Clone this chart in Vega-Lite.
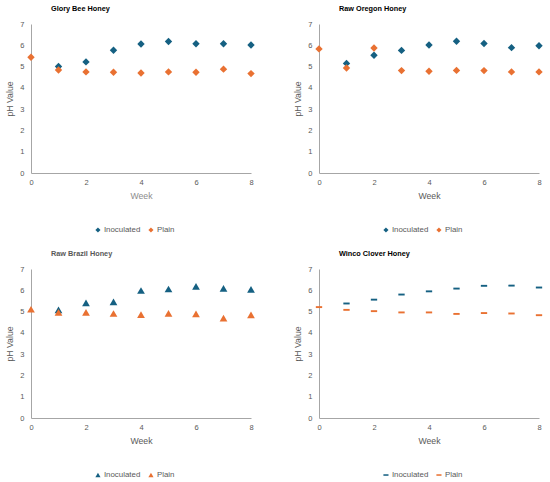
{
  "$schema": "https://vega.github.io/schema/vega-lite/v6.json",
  "padding": {"left": 5, "top": 4, "right": 5, "bottom": 5},
  "background": "white",
  "config": {
    "font": "Liberation Sans",
    "view": {"stroke": null},
    "axis": {
      "grid": false,
      "ticks": false,
      "domainColor": "#A6A6A6",
      "domainWidth": 1,
      "labelColor": "#595959",
      "labelFontSize": 7.5,
      "labelFlush": false,
      "titleColor": "#595959",
      "titleFontSize": 8.7,
      "titleFontWeight": "normal"
    },
    "axisX": {"labelPadding": 5, "titlePadding": 6},
    "axisY": {"labelPadding": 7, "titlePadding": 5},
    "legend": {
      "orient": "none",
      "direction": "horizontal",
      "legendX": 63,
      "legendY": 202,
      "labelFontSize": 7.9,
      "labelColor": "#595959",
      "symbolSize": 26,
      "labelOffset": 2,
      "columnPadding": 6,
      "symbolStrokeWidth": 0
    },
    "title": {
      "anchor": "start",
      "frame": "group",
      "dx": 20,
      "fontSize": 7.3,
      "fontWeight": "bold",
      "color": "#000000",
      "offset": 8
    }
  },
  "data": {
    "values": [
      {"honey": "Glory Bee Honey", "treatment": "Inoculated", "week": 1, "ph": 5.0},
      {"honey": "Glory Bee Honey", "treatment": "Inoculated", "week": 2, "ph": 5.22},
      {"honey": "Glory Bee Honey", "treatment": "Inoculated", "week": 3, "ph": 5.77},
      {"honey": "Glory Bee Honey", "treatment": "Inoculated", "week": 4, "ph": 6.06},
      {"honey": "Glory Bee Honey", "treatment": "Inoculated", "week": 5, "ph": 6.18},
      {"honey": "Glory Bee Honey", "treatment": "Inoculated", "week": 6, "ph": 6.07},
      {"honey": "Glory Bee Honey", "treatment": "Inoculated", "week": 7, "ph": 6.07},
      {"honey": "Glory Bee Honey", "treatment": "Inoculated", "week": 8, "ph": 6.01},
      {"honey": "Glory Bee Honey", "treatment": "Plain", "week": 0, "ph": 5.44},
      {"honey": "Glory Bee Honey", "treatment": "Plain", "week": 1, "ph": 4.84},
      {"honey": "Glory Bee Honey", "treatment": "Plain", "week": 2, "ph": 4.75},
      {"honey": "Glory Bee Honey", "treatment": "Plain", "week": 3, "ph": 4.73},
      {"honey": "Glory Bee Honey", "treatment": "Plain", "week": 4, "ph": 4.7},
      {"honey": "Glory Bee Honey", "treatment": "Plain", "week": 5, "ph": 4.75},
      {"honey": "Glory Bee Honey", "treatment": "Plain", "week": 6, "ph": 4.73},
      {"honey": "Glory Bee Honey", "treatment": "Plain", "week": 7, "ph": 4.88},
      {"honey": "Glory Bee Honey", "treatment": "Plain", "week": 8, "ph": 4.67},
      {"honey": "Raw Oregon Honey", "treatment": "Inoculated", "week": 1, "ph": 5.15},
      {"honey": "Raw Oregon Honey", "treatment": "Inoculated", "week": 2, "ph": 5.53},
      {"honey": "Raw Oregon Honey", "treatment": "Inoculated", "week": 3, "ph": 5.76},
      {"honey": "Raw Oregon Honey", "treatment": "Inoculated", "week": 4, "ph": 6.01},
      {"honey": "Raw Oregon Honey", "treatment": "Inoculated", "week": 5, "ph": 6.19},
      {"honey": "Raw Oregon Honey", "treatment": "Inoculated", "week": 6, "ph": 6.08},
      {"honey": "Raw Oregon Honey", "treatment": "Inoculated", "week": 7, "ph": 5.89},
      {"honey": "Raw Oregon Honey", "treatment": "Inoculated", "week": 8, "ph": 5.98},
      {"honey": "Raw Oregon Honey", "treatment": "Plain", "week": 0, "ph": 5.83},
      {"honey": "Raw Oregon Honey", "treatment": "Plain", "week": 1, "ph": 4.93},
      {"honey": "Raw Oregon Honey", "treatment": "Plain", "week": 2, "ph": 5.87},
      {"honey": "Raw Oregon Honey", "treatment": "Plain", "week": 3, "ph": 4.81},
      {"honey": "Raw Oregon Honey", "treatment": "Plain", "week": 4, "ph": 4.78},
      {"honey": "Raw Oregon Honey", "treatment": "Plain", "week": 5, "ph": 4.82},
      {"honey": "Raw Oregon Honey", "treatment": "Plain", "week": 6, "ph": 4.81},
      {"honey": "Raw Oregon Honey", "treatment": "Plain", "week": 7, "ph": 4.75},
      {"honey": "Raw Oregon Honey", "treatment": "Plain", "week": 8, "ph": 4.75},
      {"honey": "Raw Brazil Honey", "treatment": "Inoculated", "week": 1, "ph": 5.08},
      {"honey": "Raw Brazil Honey", "treatment": "Inoculated", "week": 2, "ph": 5.41},
      {"honey": "Raw Brazil Honey", "treatment": "Inoculated", "week": 3, "ph": 5.46},
      {"honey": "Raw Brazil Honey", "treatment": "Inoculated", "week": 4, "ph": 5.99},
      {"honey": "Raw Brazil Honey", "treatment": "Inoculated", "week": 5, "ph": 6.06},
      {"honey": "Raw Brazil Honey", "treatment": "Inoculated", "week": 6, "ph": 6.18},
      {"honey": "Raw Brazil Honey", "treatment": "Inoculated", "week": 7, "ph": 6.09},
      {"honey": "Raw Brazil Honey", "treatment": "Inoculated", "week": 8, "ph": 6.04},
      {"honey": "Raw Brazil Honey", "treatment": "Plain", "week": 0, "ph": 5.11},
      {"honey": "Raw Brazil Honey", "treatment": "Plain", "week": 1, "ph": 4.96},
      {"honey": "Raw Brazil Honey", "treatment": "Plain", "week": 2, "ph": 4.96},
      {"honey": "Raw Brazil Honey", "treatment": "Plain", "week": 3, "ph": 4.91},
      {"honey": "Raw Brazil Honey", "treatment": "Plain", "week": 4, "ph": 4.86},
      {"honey": "Raw Brazil Honey", "treatment": "Plain", "week": 5, "ph": 4.92},
      {"honey": "Raw Brazil Honey", "treatment": "Plain", "week": 6, "ph": 4.89},
      {"honey": "Raw Brazil Honey", "treatment": "Plain", "week": 7, "ph": 4.69},
      {"honey": "Raw Brazil Honey", "treatment": "Plain", "week": 8, "ph": 4.84},
      {"honey": "Winco Clover Honey", "treatment": "Inoculated", "week": 1, "ph": 5.38},
      {"honey": "Winco Clover Honey", "treatment": "Inoculated", "week": 2, "ph": 5.56},
      {"honey": "Winco Clover Honey", "treatment": "Inoculated", "week": 3, "ph": 5.8},
      {"honey": "Winco Clover Honey", "treatment": "Inoculated", "week": 4, "ph": 5.95},
      {"honey": "Winco Clover Honey", "treatment": "Inoculated", "week": 5, "ph": 6.08},
      {"honey": "Winco Clover Honey", "treatment": "Inoculated", "week": 6, "ph": 6.21},
      {"honey": "Winco Clover Honey", "treatment": "Inoculated", "week": 7, "ph": 6.22},
      {"honey": "Winco Clover Honey", "treatment": "Inoculated", "week": 8, "ph": 6.13},
      {"honey": "Winco Clover Honey", "treatment": "Plain", "week": 0, "ph": 5.21},
      {"honey": "Winco Clover Honey", "treatment": "Plain", "week": 1, "ph": 5.08},
      {"honey": "Winco Clover Honey", "treatment": "Plain", "week": 2, "ph": 5.02},
      {"honey": "Winco Clover Honey", "treatment": "Plain", "week": 3, "ph": 4.96},
      {"honey": "Winco Clover Honey", "treatment": "Plain", "week": 4, "ph": 4.96},
      {"honey": "Winco Clover Honey", "treatment": "Plain", "week": 5, "ph": 4.89},
      {"honey": "Winco Clover Honey", "treatment": "Plain", "week": 6, "ph": 4.93},
      {"honey": "Winco Clover Honey", "treatment": "Plain", "week": 7, "ph": 4.91},
      {"honey": "Winco Clover Honey", "treatment": "Plain", "week": 8, "ph": 4.83}
    ]
  },
  "columns": 2,
  "spacing": {"row": 96, "column": 68},
  "bounds": "flush",
  "resolve": {"scale": {"color": "independent"}, "legend": {"color": "independent"}},
  "concat": [
    {
      "width": 220, "height": 149,
      "title": {"text": "Glory Bee Honey"},
      "transform": [{"filter": "datum.honey === 'Glory Bee Honey'"}],
      "mark": {"type": "point", "shape": "diamond", "filled": true, "size": 55, "opacity": 1},
      "encoding": {
        "x": {"field": "week", "type": "quantitative", "scale": {"domain": [0, 8], "nice": false}, "axis": {"title": "Week", "values": [0, 2, 4, 6, 8], "titleColor": "#8C8C8C"}},
        "y": {"field": "ph", "type": "quantitative", "scale": {"domain": [0, 7], "nice": false}, "axis": {"title": "pH Value", "values": [0, 1, 2, 3, 4, 5, 6, 7]}},
        "color": {"field": "treatment", "type": "nominal", "scale": {"domain": ["Inoculated", "Plain"], "range": ["#156082", "#E97132"]}, "legend": {"title": null, "symbolType": "diamond"}}
      }
    },
    {
      "width": 220, "height": 149,
      "title": {"text": "Raw Oregon Honey"},
      "transform": [{"filter": "datum.honey === 'Raw Oregon Honey'"}],
      "mark": {"type": "point", "shape": "diamond", "filled": true, "size": 55, "opacity": 1},
      "encoding": {
        "x": {"field": "week", "type": "quantitative", "scale": {"domain": [0, 8], "nice": false}, "axis": {"title": "Week", "values": [0, 2, 4, 6, 8]}},
        "y": {"field": "ph", "type": "quantitative", "scale": {"domain": [0, 7], "nice": false}, "axis": {"title": "pH Value", "values": [0, 1, 2, 3, 4, 5, 6, 7]}},
        "color": {"field": "treatment", "type": "nominal", "scale": {"domain": ["Inoculated", "Plain"], "range": ["#156082", "#E97132"]}, "legend": {"title": null, "symbolType": "diamond"}}
      }
    },
    {
      "width": 220, "height": 149,
      "title": {"text": "Raw Brazil Honey", "color": "#595959"},
      "transform": [{"filter": "datum.honey === 'Raw Brazil Honey'"}],
      "mark": {"type": "point", "shape": "triangle-up", "filled": true, "size": 60, "opacity": 1},
      "encoding": {
        "x": {"field": "week", "type": "quantitative", "scale": {"domain": [0, 8], "nice": false}, "axis": {"title": "Week", "values": [0, 2, 4, 6, 8]}},
        "y": {"field": "ph", "type": "quantitative", "scale": {"domain": [0, 7], "nice": false}, "axis": {"title": "pH Value", "values": [0, 1, 2, 3, 4, 5, 6, 7]}},
        "color": {"field": "treatment", "type": "nominal", "scale": {"domain": ["Inoculated", "Plain"], "range": ["#156082", "#E97132"]}, "legend": {"title": null, "symbolType": "triangle-up"}}
      }
    },
    {
      "width": 220, "height": 149,
      "title": {"text": "Winco Clover Honey"},
      "transform": [{"filter": "datum.honey === 'Winco Clover Honey'"}],
      "mark": {"type": "point", "shape": "M-1,-0.3H1V0.3H-1Z", "filled": true, "size": 40, "opacity": 1},
      "encoding": {
        "x": {"field": "week", "type": "quantitative", "scale": {"domain": [0, 8], "nice": false}, "axis": {"title": "Week", "values": [0, 2, 4, 6, 8]}},
        "y": {"field": "ph", "type": "quantitative", "scale": {"domain": [0, 7], "nice": false}, "axis": {"title": "pH Value", "values": [0, 1, 2, 3, 4, 5, 6, 7]}},
        "color": {"field": "treatment", "type": "nominal", "scale": {"domain": ["Inoculated", "Plain"], "range": ["#156082", "#E97132"]}, "legend": {"title": null, "symbolType": "M-1,-0.3H1V0.3H-1Z"}}
      }
    }
  ]
}
